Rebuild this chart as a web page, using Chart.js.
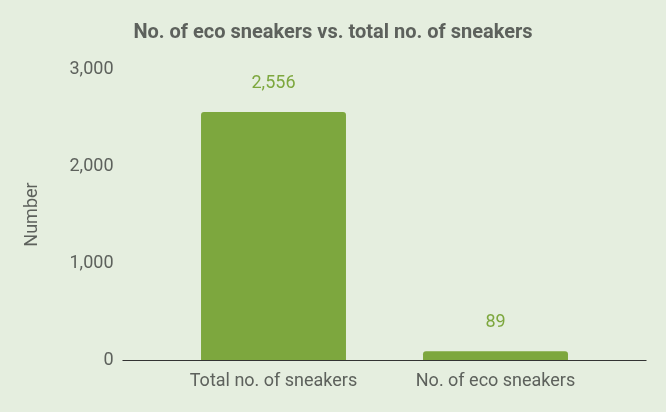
<!DOCTYPE html>
<html>
<head>
<meta charset="utf-8">
<script src="https://cdn.jsdelivr.net/npm/chart.js@4/dist/chart.umd.min.js"></script>
<style>
  html, body { margin: 0; padding: 0; background: #e5eedf; }
  #wrap { width: 666px; height: 412px; }
</style>
</head>
<body>
<div id="wrap"><canvas id="sneakers"></canvas></div>
<script>
const categories = ['Total no. of sneakers', 'No. of eco sneakers']
const counts = [2556, 89]
const yTicks = [0, 1000, 2000, 3000]

const textGrey = '#5d615c'
const barGreen = '#7da73e'

// value labels above bars + a baseline that runs a bit wider than the plot
const barLabels = {
  id: 'barLabels',
  afterDatasetsDraw(chart) {
    const ctx = chart.ctx
    const meta = chart.getDatasetMeta(0)
    const yScale = chart.scales.y
    const area = chart.chartArea
    const zero = Math.round(yScale.getPixelForValue(0)) + 0.5
    ctx.save()
    ctx.strokeStyle = '#333333'
    ctx.lineWidth = 1.2
    ctx.beginPath()
    ctx.moveTo(area.left - 40, zero)
    ctx.lineTo(area.right + 40, zero)
    ctx.stroke()

    ctx.fillStyle = barGreen
    ctx.font = '18px Roboto'
    ctx.textAlign = 'center'
    ctx.textBaseline = 'middle'
    meta.data.forEach((bar, i) => {
      ctx.fillText(counts[i].toLocaleString('en-US'), bar.x, bar.y - 29)
    })
    ctx.restore()
  },
}

const sneakerConfig = {
  type: 'bar',
  data: {
    labels: categories,
    datasets: [
      {
        data: counts,
        backgroundColor: barGreen,
        borderRadius: { topLeft: 3, topRight: 3 },
        borderSkipped: 'bottom',
        categoryPercentage: 1,
        barPercentage: 0.653,
      },
    ],
  },
  options: {
    responsive: true,
    maintainAspectRatio: false,
    animation: false,
    // equal side padding keeps the title centred on the canvas
    layout: { padding: { left: 59.5, right: 59.5, top: 0, bottom: 0 } },
    plugins: {
      legend: { display: false },
      tooltip: { enabled: false },
      title: {
        display: true,
        text: 'No. of eco sneakers vs. total no. of sneakers',
        color: textGrey,
        font: { family: 'Roboto', size: 20, weight: 'bold' },
        padding: { top: 21, bottom: 24 },
      },
    },
    scales: {
      x: {
        grid: { display: false, drawTicks: false },
        border: { display: false },
        ticks: {
          color: textGrey,
          font: { family: 'Roboto', size: 18 },
          padding: 11,
          maxRotation: 0,
        },
        afterFit(scale) { scale.height = 52 },
      },
      y: {
        min: 0,
        max: 3000,
        grid: { display: false, drawTicks: false },
        border: { display: false },
        afterBuildTicks(scale) {
          scale.ticks = yTicks.map(v => ({ value: v }))
        },
        ticks: {
          color: textGrey,
          font: { family: 'Roboto', size: 18 },
          padding: 49,
          callback: v => v.toLocaleString('en-US'),
        },
        title: {
          display: true,
          text: 'Number',
          color: textGrey,
          font: { family: 'Roboto', size: 18 },
          padding: { top: -37.5, bottom: 0 },
        },
        afterFit(scale) {
          scale.width = 103
          // big tick padding would otherwise reserve space above/below the plot
          scale.paddingTop = 11
          scale.paddingBottom = 11
        },
      },
    },
  },
  plugins: [barLabels],
}

const sneakerCanvas = document.getElementById('sneakers')
window.mySneakers = new Chart(sneakerCanvas, sneakerConfig)
</script>
</body>
</html>
